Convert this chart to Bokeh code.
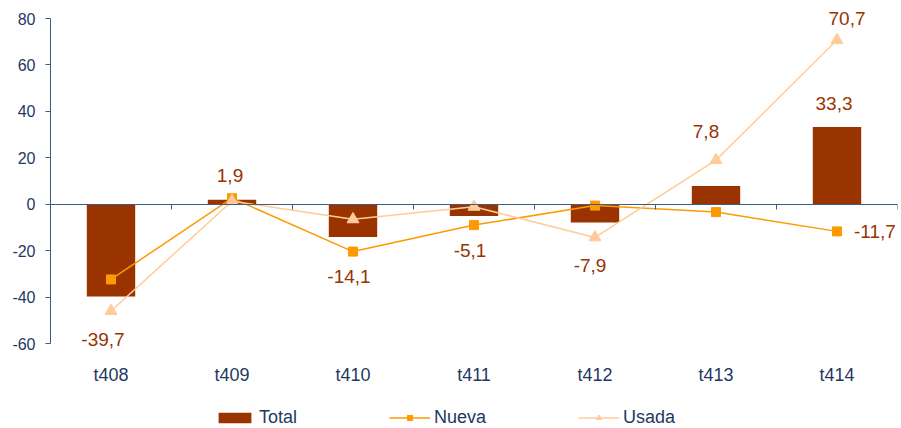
from bokeh.plotting import figure
from bokeh.models import (ColumnDataSource, Range1d, LinearAxis,
                          FixedTicker, Legend, LegendItem, LabelSet)
from bokeh.core.properties import value
from bokeh.embed import file_html
from bokeh.resources import INLINE

# ---------------- data ----------------
categories = ["t408", "t409", "t410", "t411", "t412", "t413", "t414"]
total = [-39.7, 1.9, -14.1, -5.1, -7.9, 7.8, 33.3]
nueva = [-32.4, 2.6, -20.4, -9.0, -0.6, -3.4, -11.7]
usada = [-46.0, 1.3, -6.5, -1.1, -14.3, 19.0, 70.7]
y_ticks = [-60, -40, -20, 0, 20, 40, 60, 80]

# category slots: centre of each category on a 0..n axis
n = len(categories)
xpos = [i + 0.5 for i in range(n)]
bounds = list(range(n + 1))

# data labels: all Total values, plus last Usada and last Nueva
label_x = xpos + [xpos[-1], xpos[-1]]
label_vals = total + [usada[-1], nueva[-1]]
label_text = [f"{v:.1f}".replace(".", ",") for v in label_vals]

# label placement (pixels)
label_dx = [-8, -2, -4, -4, -5, -10, -3, 10, 17]
label_dy = [-43, 24, -40, -34, -43, 55, 23, 22, 0]
label_align = ["center"] * 8 + ["left"]

# ---------------- layout / styles ----------------
W, H = 901, 428
LEFT, RIGHT = 50, 4          # frame margins in px
AX_TOP_PX, AX_BOT_PX = 18, 343  # pixel rows of the y-axis ends
y_min, y_max = y_ticks[0], y_ticks[-1]
px_per_unit = (AX_BOT_PX - AX_TOP_PX) / (y_max - y_min)
y_lo = y_min - (H - AX_BOT_PX) / px_per_unit
y_hi = y_max + AX_TOP_PX / px_per_unit

FONT = "Liberation Sans"
C_TOTAL = "#993300"
C_NUEVA = "#FF9900"
C_USADA = "#FFCC99"
C_AXIS = "#3B5E86"
C_TEXT = "#1F3864"
C_LABEL = "#993300"

src = ColumnDataSource(dict(x=xpos, cat=categories, total=total, nueva=nueva, usada=usada))
lab_src = ColumnDataSource(dict(x=label_x, val=label_vals, text=label_text,
                                dx=label_dx, dy=label_dy, align=label_align))

p = figure(x_range=Range1d(0, n), y_range=Range1d(y_lo, y_hi),
           width=W, height=H, output_backend="svg", toolbar_location=None,
           x_axis_location=None,
           min_border_left=LEFT, min_border_right=RIGHT, min_border_top=0,
           min_border_bottom=0)
p.outline_line_color = None
p.xgrid.visible = False
p.ygrid.visible = False
p.background_fill_color = "white"
p.border_fill_color = "white"

# y axis
yax = p.yaxis[0]
yax.ticker = FixedTicker(ticks=y_ticks)
yax.bounds = (y_min, y_max)
yax.major_label_overrides = {t: str(t) for t in y_ticks}
yax.axis_line_color = C_AXIS
yax.major_tick_line_color = C_AXIS
yax.major_tick_in = 0
yax.major_tick_out = 5
yax.minor_tick_line_color = None
yax.major_label_standoff = 10
yax.major_label_text_font = FONT
yax.major_label_text_font_size = "16px"
yax.major_label_text_color = C_TEXT

# category labels axis, placed under the -60 line
xax = LinearAxis(fixed_location=y_min, ticker=FixedTicker(ticks=xpos))
xax.major_label_overrides = {x: c for x, c in zip(xpos, categories)}
xax.axis_line_color = None
xax.major_tick_line_color = None
xax.minor_tick_line_color = None
xax.major_tick_in = 0
xax.major_tick_out = 0
xax.major_label_standoff = 21
xax.major_label_text_font = FONT
xax.major_label_text_font_size = "18px"
xax.major_label_text_color = C_TEXT
p.add_layout(xax, "below")

# zero axis with ticks at category boundaries
zax = LinearAxis(fixed_location=0, ticker=FixedTicker(ticks=bounds))
zax.axis_line_color = C_AXIS
zax.major_tick_line_color = C_AXIS
zax.major_tick_in = 0
zax.major_tick_out = 5
zax.minor_tick_line_color = None
zax.major_label_text_font_size = "0px"
zax.major_label_text_alpha = 0
zax.major_label_standoff = 0
p.add_layout(zax, "below")

# glyphs
bars = p.vbar(x="x", top="total", width=0.4, source=src,
              fill_color=C_TOTAL, line_color=None)
ln_n = p.line(x="x", y="nueva", source=src, line_color=C_NUEVA, line_width=1.5)
sc_n = p.scatter(x="x", y="nueva", source=src, marker="square", size=9,
                 fill_color=C_NUEVA, line_color=C_NUEVA)
ln_u = p.line(x="x", y="usada", source=src, line_color=C_USADA, line_width=1.5)
sc_u = p.scatter(x="x", y="usada", source=src, marker="triangle", size=12,
                 fill_color=C_USADA, line_color=C_USADA)

labels = LabelSet(x="x", y="val", text="text", source=lab_src,
                  x_offset="dx", y_offset="dy", text_align="align",
                  text_baseline="middle", text_font=value(FONT),
                  text_font_size="19px", text_color=C_LABEL)
p.add_layout(labels)

legend = Legend(items=[LegendItem(label="Total", renderers=[bars]),
                       LegendItem(label="Nueva", renderers=[ln_n, sc_n]),
                       LegendItem(label="Usada", renderers=[ln_u, sc_u])],
                orientation="horizontal", location=(214 - LEFT, 0),
                glyph_width=41, glyph_height=13, label_height=14,
                label_standoff=4, spacing=92, padding=0, margin=0,
                border_line_color=None, background_fill_alpha=0,
                label_text_font=FONT, label_text_font_size="18px",
                label_text_color=C_TEXT)
p.add_layout(legend, "center")

open("out.html", "w").write(file_html(p, INLINE))
